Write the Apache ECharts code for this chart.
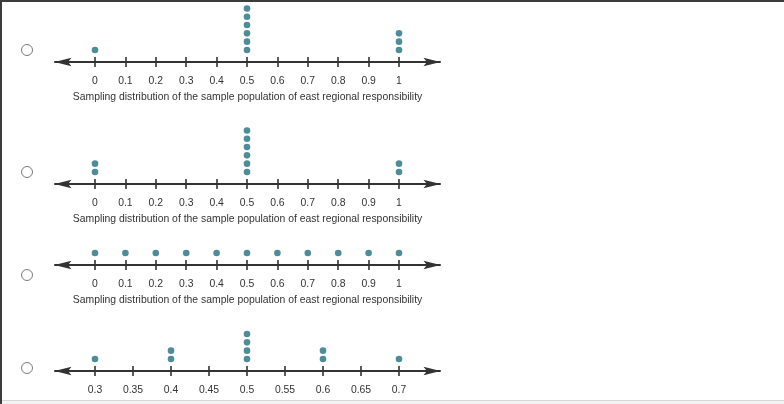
<!DOCTYPE html>
<html><head><meta charset="utf-8">
<script src="https://cdn.jsdelivr.net/npm/echarts@6/dist/echarts.min.js"></script>
<style>html,body{margin:0;padding:0;background:#fff}#c{width:784px;height:404px}</style>
</head><body><div id="c"></div>
<script>
// ---- data ----
const axisTitle = 'Sampling distribution of the sample population of east regional responsibility';
const ticksA = [0, 0.1, 0.2, 0.3, 0.4, 0.5, 0.6, 0.7, 0.8, 0.9, 1];
const ticksB = [0.3, 0.35, 0.4, 0.45, 0.5, 0.55, 0.6, 0.65, 0.7];
const plot1Values = [0, 0.5, 1];
const plot1Counts = [1, 6, 3];
const plot2Values = [0, 0.5, 1];
const plot2Counts = [2, 6, 2];
const plot3Values = [0, 0.1, 0.2, 0.3, 0.4, 0.5, 0.6, 0.7, 0.8, 0.9, 1];
const plot3Counts = [1, 1, 1, 1, 1, 1, 1, 1, 1, 1, 1];
const plot4Values = [0.3, 0.4, 0.5, 0.6, 0.7];
const plot4Counts = [1, 2, 4, 2, 1];

// ---- layout ----
const FONT = '"Liberation Sans", Arial, sans-serif';
const DOT = '#20707f';
const INK = '#333333';
const ARROW = 'path://M5,0 L10,20 L5,16 L0,20 Z';
const plots = [
  {values: plot1Values, counts: plot1Counts, ticks: ticksA, axisY: 62, title: true},
  {values: plot2Values, counts: plot2Counts, ticks: ticksA, axisY: 184, title: true},
  {values: plot3Values, counts: plot3Counts, ticks: ticksA, axisY: 265, title: true},
  {values: plot4Values, counts: plot4Counts, ticks: ticksB, axisY: 371, title: false}
];
const radioY = [50, 172, 275, 368];
const LEFT = 55, RIGHT = 440, FIRST_PX = 95, LAST_PX = 399;

const grid = [], xAxis = [], yAxis = [], series = [];
plots.forEach((p, i) => {
  const t0 = p.ticks[0], t1 = p.ticks[p.ticks.length - 1];
  const per = (LAST_PX - FIRST_PX) / (t1 - t0);
  const min = t0 - (FIRST_PX - LEFT) / per;
  const max = t1 + (RIGHT - LAST_PX) / per;
  grid.push({left: LEFT, width: RIGHT - LEFT, top: p.axisY - 60, height: 60});
  xAxis.push({
    type: 'value', gridIndex: i, min: min, max: max, position: 'bottom',
    splitLine: {show: false},
    axisLine: {show: true, onZero: false, symbol: [ARROW, ARROW], symbolSize: [9, 17], symbolOffset: [8, -8],
      lineStyle: {color: INK, width: 2}},
    axisTick: {show: true, customValues: p.ticks, length: 5, lineStyle: {color: INK, width: 1.6}},
    axisLabel: {show: true, customValues: p.ticks, margin: 14, color: INK, fontSize: 10.4, fontFamily: FONT,
      formatter: v => String(v)},
    name: p.title ? axisTitle : '', nameLocation: 'middle', nameGap: 30,
    nameTextStyle: {color: INK, fontSize: 10.4, fontFamily: FONT}
  });
  xAxis.push({
    type: 'value', gridIndex: i, min: min, max: max, position: 'bottom', offset: 0,
    splitLine: {show: false},
    axisLine: {show: false, onZero: false},
    axisTick: {show: true, inside: true, customValues: p.ticks, length: 5, lineStyle: {color: INK, width: 1.6}},
    axisLabel: {show: false}
  });
  yAxis.push({type: 'value', gridIndex: i, min: -0.45, max: 6.78, show: false});
  const pts = [];
  p.values.forEach((v, j) => {
    for (let k = 1; k <= p.counts[j]; k++) pts.push([v, k]);
  });
  series.push({
    type: 'scatter', xAxisIndex: 2 * i, yAxisIndex: i, data: pts,
    symbol: 'circle', symbolSize: 6.6, itemStyle: {color: DOT}, silent: true, animation: false
  });
});

const graphic = [
  {type: 'rect', shape: {x: 0, y: 0, width: 784, height: 2}, style: {fill: '#3c3c3c'}, z: 10},
  {type: 'rect', shape: {x: 0, y: 0, width: 2, height: 404}, style: {fill: '#3c3c3c'}, z: 10},
  {type: 'rect', shape: {x: 2, y: 400, width: 782, height: 1}, style: {fill: '#d6d6d6'}, z: 10},
  {type: 'rect', shape: {x: 2, y: 401, width: 782, height: 3}, style: {fill: '#f3f3f3'}, z: 10}
];
radioY.forEach(y => graphic.push({type: 'circle', shape: {cx: 27, cy: y, r: 5.5},
  style: {fill: '#fff', stroke: '#7a7a7a', lineWidth: 1}, z: 10}));

const chart = echarts.init(document.getElementById('c'), null, {renderer: 'canvas'});
chart.setOption({animation: false, backgroundColor: '#fff', grid, xAxis, yAxis, series, graphic});
</script>
</body></html>
